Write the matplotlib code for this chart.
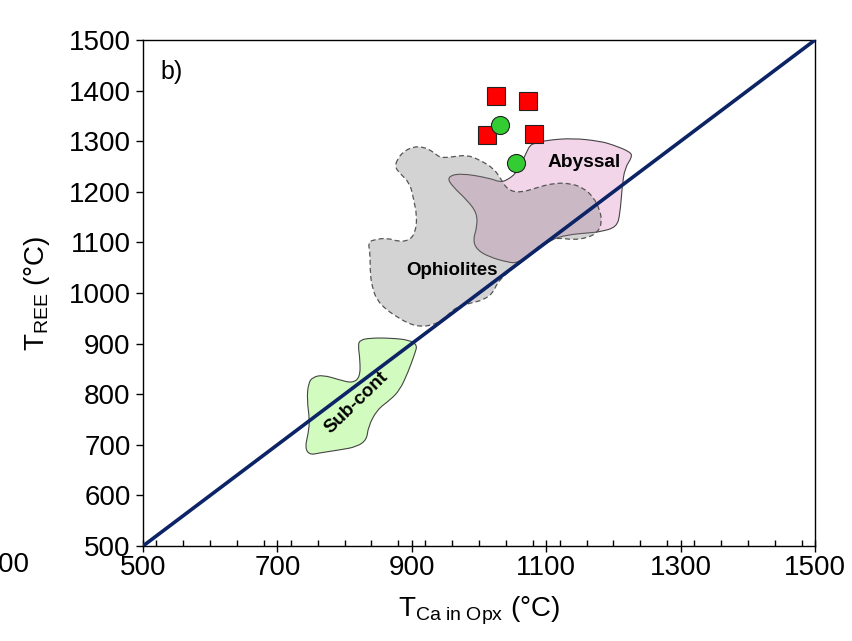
import matplotlib
matplotlib.use("Agg")
import matplotlib.pyplot as plt
from matplotlib.patches import PathPatch
from matplotlib.path import Path
from matplotlib.ticker import MultipleLocator

plt.rcParams['font.family'] = ['Liberation Sans', 'DejaVu Sans']
plt.rcParams['mathtext.fontset'] = 'custom'
plt.rcParams['mathtext.rm'] = 'Liberation Sans'
plt.rcParams['mathtext.it'] = 'Liberation Sans'

# Data
sq_x = [1025, 1073, 1012, 1082]
sq_y = [1389, 1379, 1312, 1314]
ci_x = [1031, 1055]
ci_y = [1332, 1257]

abyssal_x = [1083, 1101, 1140, 1180, 1199, 1225, 1228, 1217, 1213, 1210, 1205, 1180, 1165, 1131,
             1106, 1080, 1057, 1042, 1016, 997, 991, 997, 997, 982, 961, 952, 972, 1016, 1031,
             1042, 1057, 1071, 1076]
abyssal_y = [1296, 1302, 1306, 1300, 1293, 1279, 1269, 1247, 1210, 1158, 1130, 1121, 1119, 1115,
             1105, 1079, 1059, 1061, 1071, 1085, 1105, 1130, 1158, 1184, 1210, 1229, 1237, 1227, 1219,
             1223, 1239, 1279, 1292]

ophio_x = [878, 887, 902, 917, 932, 942, 961, 982, 1001, 1021, 1031, 1042, 1061, 1086, 1110, 1135,
           1155, 1170, 1180, 1183, 1176, 1161, 1140, 1120, 1106, 1091, 1080, 1061, 1042, 1027, 1021,
           1006, 987, 967, 957, 946, 932, 912, 893, 878, 863, 848, 841, 838, 838, 835, 842, 863,
           882, 897, 905, 908, 902, 897, 882, 875]
ophio_y = [1263, 1279, 1289, 1289, 1279, 1267, 1269, 1273, 1263, 1247, 1229, 1204, 1198, 1208, 1217,
           1217, 1208, 1190, 1164, 1138, 1119, 1109, 1105, 1109, 1105, 1095, 1081, 1059, 1040, 1020,
           1000, 986, 980, 972, 961, 947, 937, 933, 941, 953, 966, 986, 1012, 1040, 1079, 1099,
           1105, 1109, 1101, 1105, 1119, 1150, 1190, 1217, 1237, 1249]

subc_x = [823, 838, 868, 897, 908, 905, 894, 882, 868, 848, 835, 833, 818, 793, 763, 748, 741, 746,
          748, 744, 746, 753, 768, 793, 812, 823, 823, 820]
subc_y = [907, 911, 911, 907, 897, 882, 842, 808, 789, 769, 735, 710, 696, 690, 684, 680, 694, 723,
          749, 789, 822, 834, 838, 828, 822, 834, 868, 897]

one_to_one = [500, 1500]
x_ticks = [500, 700, 900, 1100, 1300, 1500]
y_ticks = [500, 600, 700, 800, 900, 1000, 1100, 1200, 1300, 1400, 1500]


def smooth_region(xs, ys, **kw):
    """Closed outline with rounded corners (quadratic Bezier through edge midpoints)."""
    pts = list(zip(xs, ys))
    n = len(pts)
    mids = [((pts[i][0] + pts[(i + 1) % n][0]) / 2, (pts[i][1] + pts[(i + 1) % n][1]) / 2)
            for i in range(n)]
    verts = [mids[-1]]
    codes = [Path.MOVETO]
    for i in range(n):
        verts += [pts[i], mids[i]]
        codes += [Path.CURVE3, Path.CURVE3]
    verts.append(mids[-1])
    codes.append(Path.CLOSEPOLY)
    return PathPatch(Path(verts, codes), **kw)


fig = plt.figure(figsize=(8.52, 6.41), dpi=100)
ax = fig.add_axes([143/852, 1-546/641, (815-143)/852, (546-40)/641])
ax.set_xlim(500, 1500)
ax.set_ylim(500, 1500)

ax.add_patch(smooth_region(subc_x, subc_y, facecolor='#d2fcbf',
                           edgecolor='#444444', lw=0.8, zorder=1))
ax.add_patch(smooth_region(abyssal_x, abyssal_y, facecolor='#f3d5ea',
                           edgecolor='#444444', lw=0.8, zorder=1))
ax.add_patch(smooth_region(ophio_x, ophio_y, facecolor=(0.5, 0.5, 0.5, 0.34),
                           edgecolor='#555555', lw=0.9, linestyle=(0, (4, 2.5)), zorder=2))

ax.plot(one_to_one, one_to_one, color='#0c2466', lw=2.6, zorder=3)

ax.plot(sq_x, sq_y, linestyle='none', marker='s', markersize=13, markerfacecolor='#ff0000',
        markeredgecolor='#222222', markeredgewidth=0.8, zorder=5)
ax.plot(ci_x, ci_y, linestyle='none', marker='o', markersize=13, markerfacecolor='#33cc33',
        markeredgecolor='#222222', markeredgewidth=0.8, zorder=5)

ax.text(1157, 1257, 'Abyssal', fontsize=13.8, fontweight='bold', ha='center', va='center', zorder=6)
ax.text(960, 1045, 'Ophiolites', fontsize=13.5, fontweight='bold', ha='center', va='center', zorder=6)
ax.text(818, 783, 'Sub-cont', fontsize=13.5, fontweight='bold', ha='center', va='center',
        rotation=44, zorder=6)
ax.text(543, 1437, 'b)', fontsize=18, ha='center', va='center')

ax.set_xticks(x_ticks)
ax.xaxis.set_minor_locator(MultipleLocator(40))
ax.set_yticks(y_ticks)
ax.tick_params(axis='x', which='major', direction='inout', length=9, width=1, labelsize=20, pad=2)
ax.tick_params(axis='x', which='minor', direction='in', length=4, width=1)
ax.tick_params(axis='y', which='major', direction='out', length=5, width=1, labelsize=20, pad=4)
for s in ax.spines.values():
    s.set_linewidth(1.0)

ax.set_xlabel(r'T$_{\mathrm{Ca\ in\ Opx}}$ (°C)', fontsize=20, labelpad=10)
ax.set_ylabel(r'T$_{\mathrm{REE}}$ (°C)', fontsize=20, labelpad=12)

fig.text(30/852, 1-565/641, '1500', fontsize=20, ha='right', va='center')

fig.savefig('out.png', dpi=100)
